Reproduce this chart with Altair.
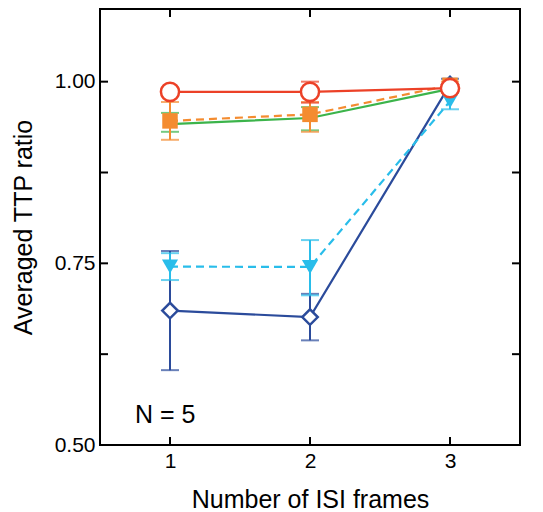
import altair as alt
import pandas as pd

# ---- data ----
isi_frames = [1, 2, 3]

navy_y  = [0.685, 0.676, 0.996]
navy_lo = [0.603, 0.644, 0.988]
navy_hi = [0.767, 0.708, 1.004]

cyan_y  = [0.7455, 0.745, 0.973]
cyan_lo = [0.727, 0.706, 0.962]
cyan_hi = [0.764, 0.782, 0.985]

green_y  = [0.9415, 0.950, 0.990]
green_lo = [0.931, 0.933, 0.985]
green_hi = [0.957, 0.965, 0.995]

orange_y  = [0.946, 0.955, 0.995]
orange_lo = [0.920, 0.931, 0.990]
orange_hi = [0.972, 0.972, 1.000]

red_y  = [0.986, 0.986, 0.991]
red_lo = [0.980, 0.971, 0.986]
red_hi = [0.992, 1.000, 0.996]

x_tick_values = [1, 2, 3]
y_label_values = [0.5, 0.75, 1.0]
y_tick_values = [0.5, 0.625, 0.75, 0.875, 1.0]

note_text = ["N = 5"]
note_x = [0.75]
note_y = [0.53]

W, H = 420, 436
TICK = 8
FONT = "Liberation Sans"

xs = alt.Scale(domain=[0.5, 3.5], nice=False, zero=False)
ys = alt.Scale(domain=[0.5, 1.1], nice=False, zero=False)

xaxis = alt.Axis(values=x_tick_values, format="d", ticks=False, domain=False, grid=False,
                 labelFontSize=21, labelPadding=5, titleFontSize=25, titlePadding=16,
                 titleFontWeight="normal", labelColor="black", titleColor="black")
yaxis = alt.Axis(values=y_label_values, format=".2f", ticks=False, domain=False, grid=False,
                 labelFontSize=21, labelPadding=5, titleFontSize=25, titlePadding=18,
                 titleFontWeight="normal", labelColor="black", titleColor="black")

X = lambda f="x": alt.X(f"{f}:Q", scale=xs, axis=xaxis, title="Number of ISI frames")
Y = lambda f="y": alt.Y(f"{f}:Q", scale=ys, axis=yaxis, title="Averaged TTP ratio")

series = [
    # name, color, y, lo, hi, shape, filled, size, dashed
    ("navy", "#2B4B9B", navy_y, navy_lo, navy_hi, "diamond", False, 240, False),
    ("cyan", "#29BDEA", cyan_y, cyan_lo, cyan_hi, "triangle-down", True, 260, True),
    ("green", "#3CB44B", green_y, green_lo, green_hi, "square", True, 10, False),
    ("orange", "#F48C30", orange_y, orange_lo, orange_hi, "square", True, 240, True),
    ("red", "#EC4127", red_y, red_lo, red_hi, "circle", False, 330, False),
]

layers = []
for name, color, yv, lo, hi, shape, filled, size, dashed in series:
    df = pd.DataFrame({"x": isi_frames, "y": yv, "lo": lo, "hi": hi})
    base = alt.Chart(df)
    line_kw = dict(color=color, strokeWidth=2.2)
    if dashed:
        line_kw["strokeDash"] = [8, 5]
    layers.append(base.mark_line(**line_kw).encode(x=X(), y=Y()))
    layers.append(base.mark_rule(color=color, strokeWidth=2).encode(x=X(), y=Y("lo"), y2="hi"))
    layers.append(base.mark_tick(color=color, orient="horizontal", size=18, thickness=2)
                  .encode(x=X(), y=Y("lo")))
    layers.append(base.mark_tick(color=color, orient="horizontal", size=18, thickness=2)
                  .encode(x=X(), y=Y("hi")))
    if name != "green":
        if filled:
            pt = base.mark_point(shape=shape, filled=True, size=size, color=color, opacity=1)
        else:
            pt = base.mark_point(shape=shape, filled=False, size=size, stroke=color,
                                 fill="white", fillOpacity=1, strokeWidth=2.5, opacity=1)
        layers.append(pt.encode(x=X(), y=Y()))

# inward ticks on all four sides
xt = alt.Chart(pd.DataFrame({"x": x_tick_values}))
yt = alt.Chart(pd.DataFrame({"y": y_tick_values}))
layers.append(xt.mark_rule(color="black", strokeWidth=2).encode(x=X(), y=alt.value(H), y2=alt.value(H - TICK)))
layers.append(xt.mark_rule(color="black", strokeWidth=2).encode(x=X(), y=alt.value(0), y2=alt.value(TICK)))
layers.append(yt.mark_rule(color="black", strokeWidth=2).encode(y=Y(), x=alt.value(0), x2=alt.value(TICK)))
layers.append(yt.mark_rule(color="black", strokeWidth=2).encode(y=Y(), x=alt.value(W), x2=alt.value(W - TICK)))

note = alt.Chart(pd.DataFrame({"x": note_x, "y": note_y, "t": note_text})).mark_text(
    align="left", baseline="alphabetic", fontSize=25, font=FONT, color="black"
).encode(x=X(), y=Y(), text="t:N")
layers.append(note)

chart = alt.layer(*layers).properties(
    width=W, height=H, padding={"left": 3, "top": 0, "right": 0, "bottom": 0}
).configure(
    font=FONT
).configure_view(stroke="black", strokeWidth=2).configure_axis(labelFont=FONT, titleFont=FONT)

chart.save("out.html", embed_options={"renderer": "svg", "actions": False})
